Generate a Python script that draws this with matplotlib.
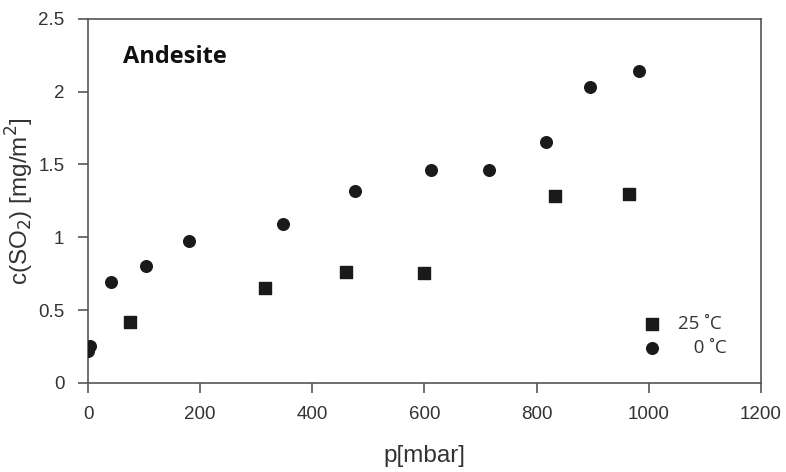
import matplotlib
matplotlib.use('Agg')
import matplotlib.pyplot as plt

# values
p_25 = [75, 316, 460, 600, 832, 964]
c_25 = [0.42, 0.65, 0.76, 0.755, 1.28, 1.30]

p_0 = [0, 4, 41, 103, 180, 347, 476, 611, 715, 816, 895, 982]
c_0 = [0.22, 0.25, 0.69, 0.80, 0.975, 1.09, 1.32, 1.46, 1.46, 1.655, 2.03, 2.14]

xticks = [0, 200, 400, 600, 800, 1000, 1200]
yticks = [0, 0.5, 1, 1.5, 2, 2.5]
ytick_labels = ['0', '0.5', '1', '1.5', '2', '2.5']

plt.rcParams['font.family'] = ['Liberation Sans', 'DejaVu Sans']

fig = plt.figure(figsize=(7.86, 4.72), dpi=100)
ax = fig.add_axes([0.112, 0.189, 0.856, 0.771])

ax.scatter(p_25, c_25, marker='s', s=85, color='#1a1a1a', label='25 ˚C', zorder=3)
ax.scatter(p_0, c_0, marker='o', s=70, color='#1a1a1a', label='\u2007 0 ˚C', zorder=3)

ax.set_xlim(0, 1200)
ax.set_ylim(0, 2.5)
ax.set_xticks(xticks)
ax.set_yticks(yticks)
ax.set_yticklabels(ytick_labels)

for s in ax.spines.values():
    s.set_color('#555555')
    s.set_linewidth(1.2)
ax.tick_params(direction='out', length=7, width=1.2, color='#555555',
               labelsize=13.5, labelcolor='#333333', pad=10)

ax.set_xlabel('p[mbar]', fontsize=17.5, color='#333333')
ax.set_ylabel('c(SO$_2$) [mg/m$^2$]', fontsize=17.5, color='#333333')
ax.xaxis.set_label_coords(0.5, -0.172)
ax.yaxis.set_label_coords(-0.078, 0.5)

ax.text(0.052, 0.895, 'Andesite', transform=ax.transAxes, fontsize=17,
        fontweight='bold', family='Open Sans', color='#111111', va='center')

leg = ax.legend(loc='lower right', bbox_to_anchor=(0.975, 0.025), frameon=False,
                fontsize=13.5, handletextpad=0.4, labelspacing=0.3, scatterpoints=1)
for t in leg.get_texts():
    t.set_color('#333333')
    t.set_family('Open Sans')

fig.savefig('out.png', dpi=100)
